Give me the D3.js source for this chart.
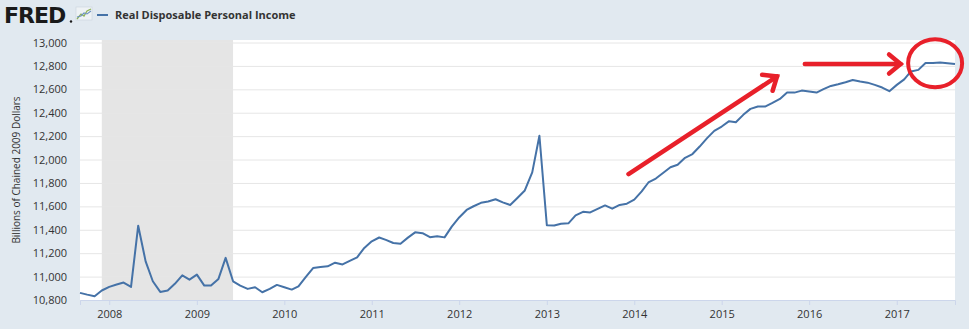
<!DOCTYPE html>
<html>
<head>
<meta charset="utf-8">
<script src="https://cdn.jsdelivr.net/npm/d3@7"></script>
<style>
  body { margin: 0; background: #e1e9f0; }
  svg { display: block; font-family: "Open Sans", sans-serif; }
</style>
</head>
<body>
<script>
// monthly values, Sep 2007 .. Sep 2017 (billions of chained 2009 dollars)
const startMonth = "2007-09";
const income = [
  10861, 10846, 10832, 10881,
  10912, 10932, 10949, 10912, 11435, 11130, 10960, 10869, 10881, 10938, 11011, 10974,
  11017, 10923, 10923, 10980, 11160, 10960, 10923, 10895, 10909, 10866, 10895, 10929,
  10909, 10889, 10917, 10997, 11073, 11081, 11088, 11119, 11104, 11134, 11165, 11245,
  11301, 11334, 11314, 11287, 11281, 11333, 11378, 11371, 11337, 11345, 11335, 11427,
  11505, 11569, 11601, 11630, 11642, 11661, 11634, 11612, 11674, 11736, 11890, 12203,
  11439, 11437, 11452, 11455, 11523, 11553, 11548, 11578, 11608, 11580, 11612, 11623,
  11657, 11728, 11804, 11838, 11885, 11934, 11955, 12015, 12047, 12111, 12183, 12245,
  12282, 12328, 12318, 12382, 12433, 12453, 12453, 12484, 12518, 12572, 12572, 12589,
  12581, 12572, 12601, 12629, 12644, 12661, 12679, 12666, 12657, 12638, 12615, 12584,
  12638, 12685, 12753, 12766, 12825, 12825, 12829, 12822, 12816
];
const yTicks = [10800, 11000, 11200, 11400, 11600, 11800, 12000, 12200, 12400, 12600, 12800, 13000];
const xYears = [2008, 2009, 2010, 2011, 2012, 2013, 2014, 2015, 2016, 2017];
const recession = ["2007-12-01", "2009-06-01"];
const seriesName = "Real Disposable Personal Income";
const yTitle = "Billions of Chained 2009 Dollars";

// hand-drawn red annotations, in data units
const arrowUp = { from: ["2013-12-08", 11876], to: ["2015-08-20", 12710] };
const arrowRight = { from: ["2015-12-14", 12816], to: ["2017-01-17", 12816] };
const circleAt = ["2017-06-10", 12822];

const W = 969, H = 329;
const plot = { left: 80, right: 955, top: 40, bottom: 300 };

const parse = d3.timeParse("%Y-%m-%d");
const t0 = d3.timeParse("%Y-%m")(startMonth);
const data = income.map((v, i) => ({ date: d3.timeMonth.offset(t0, i), value: v }));

const x = d3.scaleTime()
  .domain(d3.extent(data, d => d.date))
  .range([plot.left, plot.right]);
const y = d3.scaleLinear().domain([10800, 13000]).range([plot.bottom, 42.5]);

const svg = d3.select("body").append("svg").attr("width", W).attr("height", H);

svg.append("rect").attr("width", W).attr("height", H).attr("fill", "#e1e9f0");

// header: logo + legend
svg.append("text")
  .attr("x", 4).attr("y", 23)
  .attr("font-family", "DejaVu Sans, sans-serif")
  .attr("font-weight", "bold").attr("font-size", 22)
  .attr("letter-spacing", -1)
  .attr("fill", "#1a1a1a")
  .text("FRED");
svg.append("circle").attr("cx", 71).attr("cy", 21.5).attr("r", 1.2).attr("fill", "#1a1a1a");

const icon = svg.append("g").attr("transform", "translate(76,7)");
icon.append("rect").attr("width", 16).attr("height", 13).attr("fill", "#eef2f5").attr("stroke", "#c9d3dc").attr("stroke-width", 0.6);
icon.append("polyline").attr("points", "1,12 5,7 8,9 11,4 15,2")
  .attr("fill", "none").attr("stroke", "#8fb35a").attr("stroke-width", 1.3);
icon.append("polyline").attr("points", "1,10 5,9 8,6 11,7 15,4")
  .attr("fill", "none").attr("stroke", "#6f93bf").attr("stroke-width", 1.1);

svg.append("line").attr("x1", 97).attr("x2", 108).attr("y1", 15).attr("y2", 15)
  .attr("stroke", "#4572a7").attr("stroke-width", 2);
svg.append("text").attr("x", 115).attr("y", 19)
  .attr("font-size", 11).attr("font-weight", 700).attr("fill", "#333")
  .text(seriesName);

// plot area
svg.append("rect")
  .attr("x", plot.left).attr("y", plot.top)
  .attr("width", plot.right - plot.left).attr("height", plot.bottom - plot.top)
  .attr("fill", "#fff");

svg.append("rect")
  .attr("x", x(parse(recession[0]))).attr("y", plot.top)
  .attr("width", x(parse(recession[1])) - x(parse(recession[0])))
  .attr("height", plot.bottom - plot.top)
  .attr("fill", "#e5e5e5");

// grid + y labels
svg.append("g")
  .attr("transform", `translate(${plot.left},0)`)
  .call(d3.axisLeft(y).tickValues(yTicks).tickSize(-(plot.right - plot.left)).tickPadding(13)
    .tickFormat(d3.format(",")))
  .call(g => g.select(".domain").remove())
  .call(g => g.selectAll(".tick line").attr("stroke", "#e6e6e6"))
  .call(g => g.selectAll(".tick text").attr("fill", "#333").attr("font-size", 11)
    .attr("font-family", "Open Sans, sans-serif"));

// x axis
svg.append("g")
  .attr("transform", `translate(0,${plot.bottom})`)
  .call(d3.axisBottom(x).tickValues(xYears.map(yr => new Date(yr, 0, 1)))
    .tickSize(5).tickPadding(5).tickFormat(d3.timeFormat("%Y")))
  .call(g => g.select(".domain").attr("stroke", "#ccd6eb"))
  .call(g => g.selectAll(".tick line").attr("stroke", "#ccd6eb"))
  .call(g => g.selectAll(".tick text").attr("fill", "#333").attr("font-size", 11)
    .attr("font-family", "Open Sans, sans-serif"));

svg.append("text")
  .attr("transform", `translate(20,${(plot.top + plot.bottom) / 2}) rotate(-90)`)
  .attr("text-anchor", "middle")
  .attr("font-size", 10).attr("fill", "#333")
  .text(yTitle);

// series
const line = d3.line().x(d => x(d.date)).y(d => y(d.value));
svg.append("path").datum(data)
  .attr("fill", "none").attr("stroke", "#4572a7").attr("stroke-width", 2)
  .attr("stroke-linejoin", "round")
  .attr("d", line);

// red annotations
const red = "#e8202a";
const pt = p => [x(parse(p[0])), y(p[1])];
function arrow(a, head) {
  const [x1, y1] = pt(a.from), [x2, y2] = pt(a.to);
  const ang = Math.atan2(y2 - y1, x2 - x1);
  const g = svg.append("g").attr("stroke", red).attr("stroke-width", 4.5)
    .attr("stroke-linecap", "round").attr("fill", "none");
  g.append("line").attr("x1", x1).attr("y1", y1).attr("x2", x2).attr("y2", y2);
  const a1 = ang + Math.PI * 0.78, a2 = ang - Math.PI * 0.78;
  g.append("polyline").attr("points", [
    [x2 + head * Math.cos(a1), y2 + head * Math.sin(a1)],
    [x2, y2],
    [x2 + head * Math.cos(a2), y2 + head * Math.sin(a2)]
  ].map(p => p.join(",")).join(" "));
}
arrow(arrowUp, 15);
arrow(arrowRight, 15);

const c = pt(circleAt);
svg.append("ellipse").attr("cx", c[0]).attr("cy", c[1]).attr("rx", 27).attr("ry", 24)
  .attr("fill", "none").attr("stroke", red).attr("stroke-width", 4);
</script>
</body>
</html>
